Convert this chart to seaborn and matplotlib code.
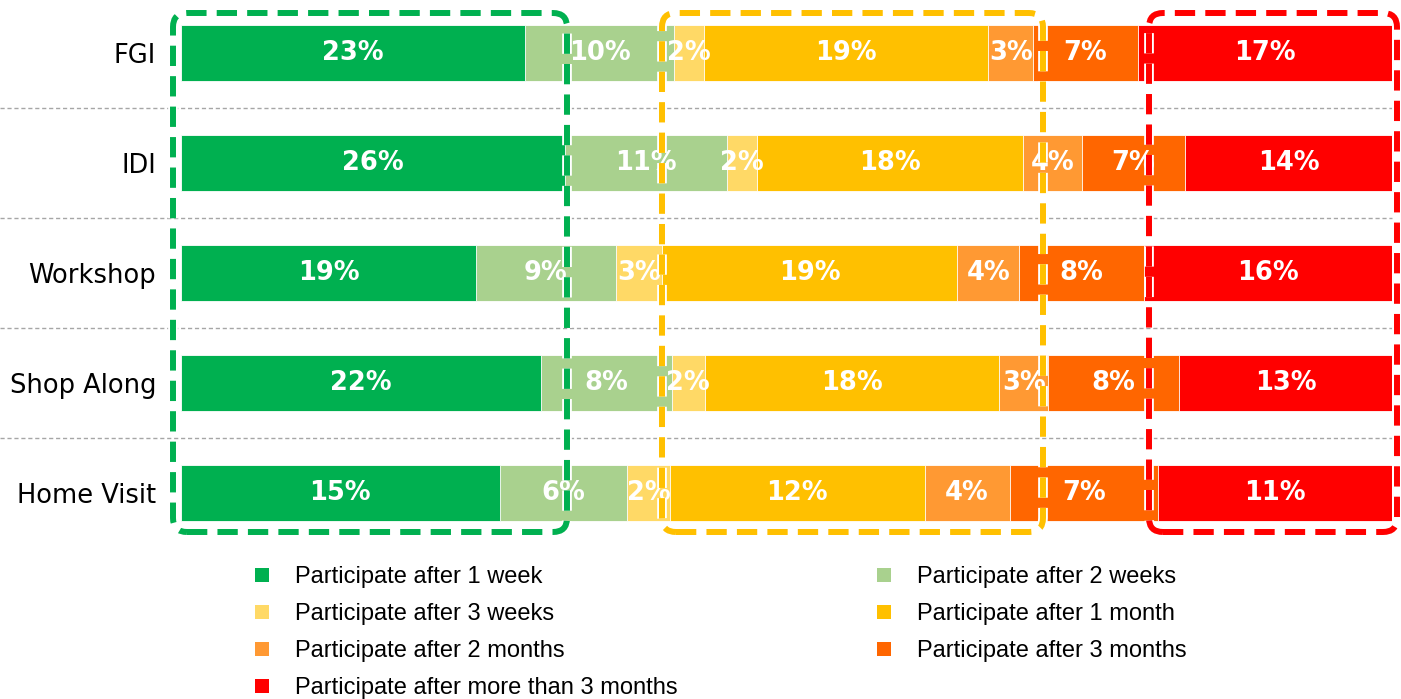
import numpy as np
import pandas as pd
import seaborn as sns
import matplotlib.pyplot as plt
from matplotlib.patches import Patch, FancyBboxPatch
from matplotlib import patheffects

methods = ["FGI", "IDI", "Workshop", "Shop Along", "Home Visit"]

one_week = [23, 26, 19, 22, 15]
two_weeks = [10, 11, 9, 8, 6]
three_weeks = [2, 2, 3, 2, 2]
one_month = [19, 18, 19, 18, 12]
two_months = [3, 4, 4, 3, 4]
three_months = [7, 7, 8, 8, 7]
over_three_months = [17, 14, 16, 13, 11]

series_names = [
    "Participate after 1 week",
    "Participate after 2 weeks",
    "Participate after 3 weeks",
    "Participate after 1 month",
    "Participate after 2 months",
    "Participate after 3 months",
    "Participate after more than 3 months",
]
colors = ["#00B050", "#A9D18E", "#FFD966", "#FFC000", "#FF9933", "#FF6600", "#FF0000"]

df = pd.DataFrame(
    np.array([one_week, two_weeks, three_weeks, one_month,
              two_months, three_months, over_three_months]).T,
    index=methods, columns=series_names,
)
share = df.div(df.sum(axis=1), axis=0) * 100
cum = share.cumsum(axis=1)

sns.set_style("white")
fig = plt.figure(figsize=(14.01, 6.99), dpi=100)
W, H = 1401, 699
ax = fig.add_axes([181 / W, (H - 548) / H, 1211 / W, 550 / H])

# stacked bars: draw cumulative totals from the right-most series back to the first
for j in reversed(range(len(series_names))):
    sns.barplot(x=cum.iloc[:, j].values, y=methods, orient="h", color=colors[j],
                saturation=1, width=0.51, edgecolor="white", linewidth=0.6, ax=ax)

for i, m in enumerate(methods):
    for j, name in enumerate(series_names):
        mid = cum.loc[m, name] - share.loc[m, name] / 2
        ax.text(mid, i, f"{df.loc[m, name]}%", ha="center", va="center",
                color="white", fontsize=18.5, fontweight="bold")

for y in [0.5, 1.5, 2.5, 3.5]:
    ax.axhline(y, xmin=-181 / 1211, xmax=1, color="#A6A6A6", lw=1,
               ls=(0, (3, 2)), clip_on=False)

ax.set_xlim(0, 100)
ax.set_ylim(4.5, -0.5)
ax.set_xticks([])
ax.set_xlabel("")
ax.set_ylabel("")
ax.tick_params(axis="y", length=0, pad=18, labelsize=18.5, labelcolor="black")
sns.despine(ax=ax, left=True, bottom=True)

# dashed highlight frames (pixel coordinates)
frames = [(173, 567, "#00B050"), (662, 1043, "#FFC000"), (1149, 1397, "#FF0000")]
for x0, x1, c in frames:
    box = FancyBboxPatch((x0, H - 532), x1 - x0, 519,
                         boxstyle="round,pad=0,rounding_size=14",
                         transform=None, fill=False, edgecolor=c, lw=4.3,
                         ls=(0, (3.4, 1.7)), zorder=5)
    box.set_path_effects([patheffects.withStroke(linewidth=7, foreground="white")])
    fig.add_artist(box)

handles = [Patch(facecolor=c, edgecolor="none") for c in colors]
leg_kw = dict(loc="upper left", frameon=False,
              prop={"family": "Liberation Sans", "size": 17},
              labelcolor="black",
              handlelength=0.6, handleheight=0.55, handletextpad=1.1,
              labelspacing=0.64, borderpad=0, borderaxespad=0)
left_idx = [0, 2, 4, 6]
right_idx = [1, 3, 5]
fig.legend([handles[i] for i in left_idx], [series_names[i] for i in left_idx],
           bbox_to_anchor=(255 / W, 1 - 566 / H), **leg_kw)
fig.legend([handles[i] for i in right_idx], [series_names[i] for i in right_idx],
           bbox_to_anchor=(877 / W, 1 - 566 / H), **leg_kw)

plt.savefig("out.png", dpi=100)
